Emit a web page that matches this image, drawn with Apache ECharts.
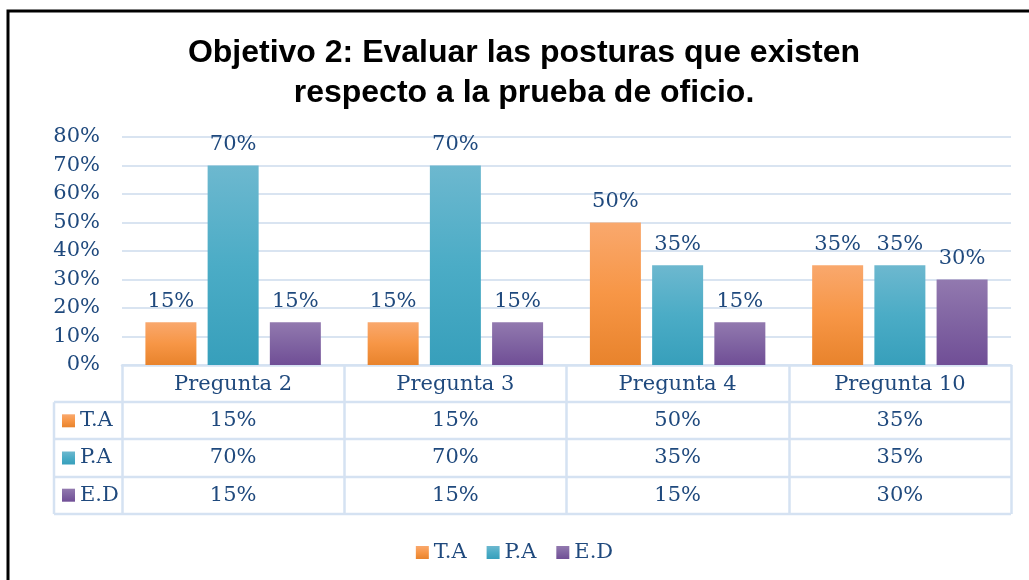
<!DOCTYPE html>
<html>
<head>
<meta charset="utf-8">
<script src="https://cdn.jsdelivr.net/npm/echarts@6/dist/echarts.min.js"></script>
<style>
html,body{margin:0;padding:0;background:#fff;}
#chart{width:1029px;height:580px;}
</style>
</head>
<body>
<div id="chart"></div>
<script>
var titleLines = ['Objetivo 2: Evaluar las posturas que existen', 'respecto a la prueba de oficio.'];
var categories = ['Pregunta 2', 'Pregunta 3', 'Pregunta 4', 'Pregunta 10'];
var seriesNames = ['T.A', 'P.A', 'E.D'];
var valuesTA = [15, 15, 50, 35];
var valuesPA = [70, 70, 35, 35];
var valuesED = [15, 15, 15, 30];
var yTicks = [0, 10, 20, 30, 40, 50, 60, 70, 80];

var TEXT = '#1F497D';
var FONT = 'DejaVu Serif';
var FS = 21;
var LINE = '#D5E2F2';
var ROW_H = 37.2;
var LEFT_COL = 68;

function grad(top, mid, bot) {
  return new echarts.graphic.LinearGradient(0, 0, 0, 1, [
    {offset: 0, color: top}, {offset: 0.5, color: mid}, {offset: 1, color: bot}
  ]);
}
var colors = [
  grad('#F9A86D', '#F79646', '#E8832C'),
  grad('#6DB8CF', '#4BACC6', '#379FBB'),
  grad('#9279AF', '#8064A2', '#704E96')
];
var seriesData = [valuesTA, valuesPA, valuesED];

var chart = echarts.init(document.getElementById('chart'), null, {renderer: 'canvas'});

var series = seriesNames.map(function (n, i) {
  return {
    name: n,
    type: 'bar',
    data: seriesData[i],
    barWidth: 51,
    barGap: '22%',
    itemStyle: {color: colors[i]},
    label: {
      show: true, position: 'top', distance: 10,
      color: TEXT, fontFamily: FONT, fontSize: FS,
      formatter: function (p) { return p.value + '%'; }
    }
  };
});

chart.setOption({
  animation: false,
  backgroundColor: '#fff',
  legend: {
    data: seriesNames,
    top: 537, left: 'center',
    icon: 'rect', itemWidth: 13, itemHeight: 13, itemGap: 20,
    textStyle: {fontFamily: FONT, fontSize: FS, color: TEXT}
  },
  grid: {left: 122, right: 18, top: 137, bottom: 215, containLabel: false},
  xAxis: {
    type: 'category', data: categories,
    axisLine: {show: true, lineStyle: {color: LINE, width: 2.5}},
    axisTick: {show: true, length: 149, lineStyle: {color: LINE, width: 2.5}},
    axisLabel: {fontFamily: FONT, fontSize: FS, color: TEXT, margin: 9}
  },
  yAxis: {
    type: 'value', min: yTicks[0], max: yTicks[yTicks.length - 1], interval: 10,
    axisLine: {show: false}, axisTick: {show: false},
    axisLabel: {fontFamily: FONT, fontSize: FS, color: TEXT, margin: 22,
      formatter: function (v) { return v + '%'; }},
    splitLine: {lineStyle: {color: '#D9E4F1', width: 2}}
  },
  series: series
});

// Data table built from axis positions
var gridRect = chart.getModel().getComponent('grid', 0).coordinateSystem.getRect();
var y0 = chart.convertToPixel({yAxisIndex: 0}, 0);
var xl = gridRect.x, xr = gridRect.x + gridRect.width;
var g = [];
// title
g.push({type: 'text', x: 524, y: 33, style: {text: titleLines.join('\n'), fontFamily: 'Liberation Sans', fontWeight: 'bold', fontSize: 32, lineHeight: 40, fill: '#000', align: 'center', verticalAlign: 'top'}, z: 20});
// outer frame
g.push({type: 'rect', shape: {x: 8, y: 11, width: 1040, height: 600}, style: {fill: null, stroke: '#000', lineWidth: 3}, z: 100});
// horizontal row lines
for (var k = 1; k <= seriesNames.length + 1; k++) {
  var yy = Math.round(y0 + ROW_H * k);
  g.push({type: 'line', shape: {x1: xl - LEFT_COL, y1: yy, x2: xr, y2: yy}, style: {stroke: LINE, lineWidth: 2.5}, z: 10});
}
// left column border
g.push({type: 'line', shape: {x1: xl - LEFT_COL, y1: y0 + ROW_H, x2: xl - LEFT_COL, y2: Math.round(y0 + ROW_H * (seriesNames.length + 1))}, style: {stroke: LINE, lineWidth: 2.5}, z: 10});
seriesNames.forEach(function (n, i) {
  var cy = y0 + ROW_H * (i + 1.5);
  g.push({type: 'rect', shape: {x: xl - LEFT_COL + 8, y: cy - 6.5, width: 13, height: 13}, style: {fill: colors[i]}, z: 11});
  g.push({type: 'text', x: xl - LEFT_COL + 26, y: cy, style: {text: n, fontFamily: FONT, fontSize: FS, fill: TEXT, verticalAlign: 'middle', align: 'left'}, z: 11});
  categories.forEach(function (c, j) {
    var cx = chart.convertToPixel({xAxisIndex: 0}, c);
    g.push({type: 'text', x: cx, y: cy, style: {text: seriesData[i][j] + '%', fontFamily: FONT, fontSize: FS, fill: TEXT, align: 'center', verticalAlign: 'middle'}, z: 11});
  });
});
chart.setOption({graphic: g});
</script>
</body>
</html>
